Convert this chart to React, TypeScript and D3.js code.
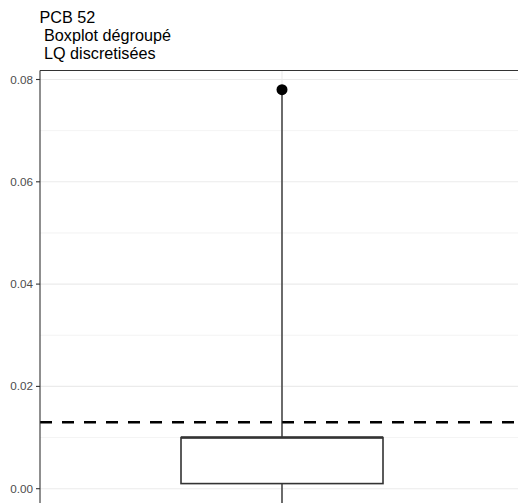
import React from "react";
import * as d3 from "d3";

const titleLines = ["PCB 52", " Boxplot dégroupé", " LQ discretisées"];
const categories = ["PCB 52"];
const q1 = [0.001];
const medians = [0.01];
const q3 = [0.01];
const whiskerLow = [-0.006];
const whiskerHigh = [0.078];
const outliers = [0.078];
const lqLine = 0.013;
const majorTicks = [0, 0.02, 0.04, 0.06, 0.08];
const minorTicks = [0.01, 0.03, 0.05, 0.07];

const W = 518;
const H = 503;
const panel = { left: 40, top: 70.5, right: 522, bottom: 510 };

export default function App() {
  const y = d3.scaleLinear().domain([0, 0.08]).range([488.7, 79.5]);
  const x = d3
    .scaleBand<string>()
    .domain(categories)
    .range([0, 564])
    .paddingInner(0)
    .paddingOuter(0);
  const boxW = 202;
  const cx = (c: string) => (x(c) as number) + x.bandwidth() / 2;
  const fmt = d3.format(".2f");
  return (
    <svg
      width={W}
      height={H}
      style={{ position: "absolute", left: 0, top: 0, background: "#fff" }}
      fontFamily="'Liberation Sans', Arial, sans-serif"
    >
      <rect x={0} y={0} width={W} height={H} fill="#fff" />
      <defs>
        <clipPath id="pc">
          <rect x={panel.left} y={panel.top} width={panel.right - panel.left} height={panel.bottom - panel.top} />
        </clipPath>
      </defs>
      {titleLines.map((t, i) => (
        <text key={i} x={39.5} y={22.5 + i * 18.3} fontSize={16.2} fill="#000" style={{ whiteSpace: "pre" }}>
          {t}
        </text>
      ))}
      <g clipPath="url(#pc)">
        {minorTicks.map((v) => (
          <line key={"m" + v} x1={panel.left} x2={panel.right} y1={y(v)} y2={y(v)} stroke="#EBEBEB" strokeWidth={0.6} />
        ))}
        {majorTicks.map((v) => (
          <line key={"M" + v} x1={panel.left} x2={panel.right} y1={y(v)} y2={y(v)} stroke="#EBEBEB" strokeWidth={1.1} />
        ))}
        {categories.map((c) => (
          <line key={"v" + c} x1={cx(c)} x2={cx(c)} y1={panel.top} y2={panel.bottom} stroke="#EBEBEB" strokeWidth={1.1} />
        ))}
        <line x1={panel.left} x2={panel.right} y1={y(lqLine)} y2={y(lqLine)} stroke="#000" strokeWidth={2.6} strokeDasharray="12,10" />
        {categories.map((c, i) => (
          <g key={c}>
            <line x1={cx(c)} x2={cx(c)} y1={y(q3[i])} y2={y(whiskerHigh[i])} stroke="#222" strokeWidth={1.3} />
            <line x1={cx(c)} x2={cx(c)} y1={y(q1[i])} y2={y(whiskerLow[i])} stroke="#222" strokeWidth={1.3} />
            <rect
              x={cx(c) - boxW / 2}
              y={y(q3[i])}
              width={boxW}
              height={y(q1[i]) - y(q3[i])}
              fill="#fff"
              stroke="#333"
              strokeWidth={1.6}
            />
            <line x1={cx(c) - boxW / 2} x2={cx(c) + boxW / 2} y1={y(medians[i])} y2={y(medians[i])} stroke="#333" strokeWidth={2.6} />
            <circle cx={cx(c)} cy={y(outliers[i])} r={5.5} fill="#000" />
          </g>
        ))}
      </g>
      <line x1={panel.left} x2={panel.right} y1={panel.top} y2={panel.top} stroke="#333" strokeWidth={1.1} />
      <line x1={panel.left} x2={panel.left} y1={panel.top} y2={panel.bottom} stroke="#333" strokeWidth={1.1} />
      {majorTicks.map((v) => (
        <g key={"t" + v}>
          <line x1={panel.left - 4} x2={panel.left} y1={y(v)} y2={y(v)} stroke="#333" strokeWidth={1.1} />
          <text x={33} y={y(v)} dy="0.35em" textAnchor="end" fontSize={11.7} fill="#4D4D4D">
            {fmt(v)}
          </text>
        </g>
      ))}
    </svg>
  );
}
